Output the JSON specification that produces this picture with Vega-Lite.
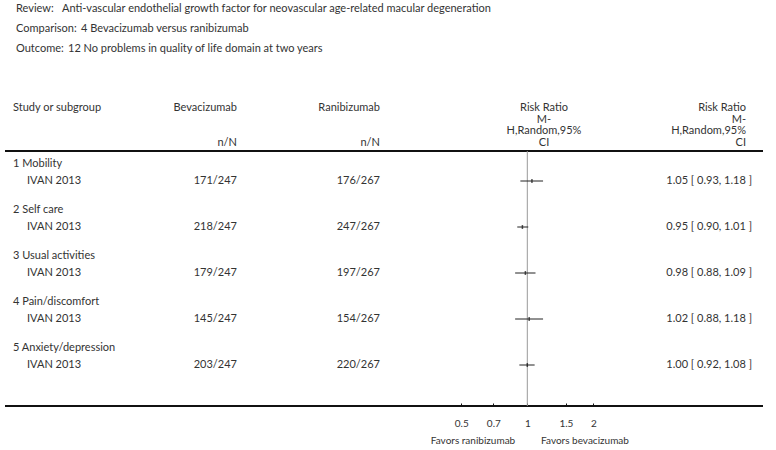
{
  "$schema": "https://vega.github.io/schema/vega-lite/v6.json",
  "width": 776,
  "height": 450,
  "padding": 0,
  "autosize": {"type": "none"},
  "background": "white",
  "config": {"view": {"stroke": null}, "text": {"font": "Lato", "fontSize": 11, "color": "#333"}},
  "datasets": {
    "leftText": [
      {"row": 0, "col": 2, "text": "Review:"},
      {"row": 0, "col": 4, "text": "Anti-vascular endothelial growth factor for neovascular age-related macular degeneration"},
      {"row": 1, "col": 2, "text": "Comparison:"},
      {"row": 1, "col": 6, "text": "4 Bevacizumab versus ranibizumab"},
      {"row": 2, "col": 2, "text": "Outcome:"},
      {"row": 2, "col": 5, "text": "12 No problems in quality of life domain at two years"},
      {"row": 3, "col": 1, "text": "Study or subgroup"},
      {"row": 8, "col": 1, "text": "1 Mobility"},
      {"row": 9, "col": 3, "text": "IVAN 2013"},
      {"row": 10, "col": 1, "text": "2 Self care"},
      {"row": 11, "col": 3, "text": "IVAN 2013"},
      {"row": 12, "col": 1, "text": "3 Usual activities"},
      {"row": 13, "col": 3, "text": "IVAN 2013"},
      {"row": 14, "col": 1, "text": "4 Pain/discomfort"},
      {"row": 15, "col": 3, "text": "IVAN 2013"},
      {"row": 16, "col": 1, "text": "5 Anxiety/depression"},
      {"row": 17, "col": 3, "text": "IVAN 2013"}
    ],
    "rightText": [
      {"row": 3, "col": 7, "text": "Bevacizumab"},
      {"row": 3, "col": 8, "text": "Ranibizumab"},
      {"row": 6, "col": 7, "text": "n/N"},
      {"row": 6, "col": 8, "text": "n/N"},
      {"row": 3, "col": 12, "text": "Risk Ratio"},
      {"row": 4, "col": 12, "text": "M-"},
      {"row": 5, "col": 12, "text": "H,Random,95%"},
      {"row": 6, "col": 12, "text": "CI"},
      {"row": 9, "col": 7, "text": "171/247"},
      {"row": 9, "col": 8, "text": "176/267"},
      {"row": 9, "col": 13, "text": "1.05 [ 0.93, 1.18 ]"},
      {"row": 11, "col": 7, "text": "218/247"},
      {"row": 11, "col": 8, "text": "247/267"},
      {"row": 11, "col": 13, "text": "0.95 [ 0.90, 1.01 ]"},
      {"row": 13, "col": 7, "text": "179/247"},
      {"row": 13, "col": 8, "text": "197/267"},
      {"row": 13, "col": 13, "text": "0.98 [ 0.88, 1.09 ]"},
      {"row": 15, "col": 7, "text": "145/247"},
      {"row": 15, "col": 8, "text": "154/267"},
      {"row": 15, "col": 13, "text": "1.02 [ 0.88, 1.18 ]"},
      {"row": 17, "col": 7, "text": "203/247"},
      {"row": 17, "col": 8, "text": "220/267"},
      {"row": 17, "col": 13, "text": "1.00 [ 0.92, 1.08 ]"}
    ],
    "centerText": [
      {"row": 3, "col": 10, "text": "Risk Ratio"},
      {"row": 4, "col": 10, "text": "M-"},
      {"row": 5, "col": 10, "text": "H,Random,95%"},
      {"row": 6, "col": 10, "text": "CI"},
      {"row": 20, "col": 9, "text": "Favors ranibizumab"},
      {"row": 20, "col": 11, "text": "Favors bevacizumab"}
    ],
    "borders": [
      {"row": 7, "from": 0, "to": 14},
      {"row": 18, "from": 0, "to": 14}
    ],
    "studies": [
      {"row": 9, "rr": 1.05, "lo": 0.93, "hi": 1.18},
      {"row": 11, "rr": 0.95, "lo": 0.90, "hi": 1.01},
      {"row": 13, "rr": 0.98, "lo": 0.88, "hi": 1.09},
      {"row": 15, "rr": 1.02, "lo": 0.88, "hi": 1.18},
      {"row": 17, "rr": 1.00, "lo": 0.92, "hi": 1.08}
    ],
    "nullLine": [
      {"rr": 1, "top": 7, "bottom": 18}
    ]
  },
  "resolve": {"scale": {"x": "independent"}, "axis": {"x": "independent"}},
  "layer": [
    {
      "layer": [
        {
          "data": {"name": "borders"},
          "mark": {"type": "rule", "color": "#111", "strokeWidth": 2},
          "encoding": {
            "x": {"field": "from", "type": "quantitative", "axis": null,
                  "scale": {"type": "linear", "zero": false, "nice": false,
                            "domain": [0,1,2,3,4,5,6,7,8,9,10,11,12,13,14],
                            "range": [5,13,16,27,62,68,81,237,380,473,544,585,746,752,763]}},
            "x2": {"field": "to"},
            "y": {"field": "row", "type": "quantitative", "axis": null,
                  "scale": {"type": "linear", "zero": false, "nice": false,
                            "domain": [0,1,2,3,4,5,6,7,8,9,10,11,12,13,14,15,16,17,18,19,20],
                            "range": [9,29,49,108,119.5,131,142.5,151,164,181,210,227,256,273,302,319,348,365,406,423,441]}}
          }
        },
        {
          "data": {"name": "leftText"},
          "mark": {"type": "text", "align": "left", "baseline": "middle"},
          "encoding": {
            "x": {"field": "col", "type": "quantitative", "axis": null},
            "y": {"field": "row", "type": "quantitative", "axis": null},
            "text": {"field": "text"}
          }
        },
        {
          "data": {"name": "rightText"},
          "mark": {"type": "text", "align": "right", "baseline": "middle"},
          "encoding": {
            "x": {"field": "col", "type": "quantitative", "axis": null},
            "y": {"field": "row", "type": "quantitative", "axis": null},
            "text": {"field": "text"}
          }
        },
        {
          "data": {"name": "centerText"},
          "mark": {"type": "text", "align": "center", "baseline": "middle"},
          "encoding": {
            "x": {"field": "col", "type": "quantitative", "axis": null},
            "y": {"field": "row", "type": "quantitative", "axis": null},
            "text": {"field": "text"},
            "size": {"condition": {"test": "datum.row == 20", "value": 10}, "value": 11}
          }
        }
      ]
    },
    {
      "layer": [
        {
          "data": {"name": "nullLine"},
          "mark": {"type": "rule", "color": "#999", "strokeWidth": 1},
          "encoding": {
            "x": {"field": "rr", "type": "quantitative",
                  "scale": {"type": "log", "domain": [0.5, 2], "range": [461.3, 593.3], "nice": false, "zero": false},
                  "axis": {"orient": "bottom", "offset": -44, "values": [0.5, 0.7, 1, 1.5, 2], "format": "~g",
                           "domain": false, "grid": false, "title": null, "tickSize": -3, "tickColor": "#111",
                           "tickWidth": 1, "labelPadding": 15, "labelFont": "Lato", "labelFontSize": 10,
                           "labelColor": "#333", "labelFlush": false, "labelOverlap": false}},
            "y": {"field": "top", "type": "quantitative", "axis": null},
            "y2": {"field": "bottom"}
          }
        },
        {
          "data": {"name": "studies"},
          "mark": {"type": "rule", "color": "#222", "strokeWidth": 1},
          "encoding": {
            "x": {"field": "lo", "type": "quantitative"},
            "x2": {"field": "hi"},
            "y": {"field": "row", "type": "quantitative", "axis": null}
          }
        },
        {
          "data": {"name": "studies"},
          "mark": {"type": "tick", "orient": "vertical", "color": "#111", "size": 4, "thickness": 1.5},
          "encoding": {
            "x": {"field": "rr", "type": "quantitative"},
            "y": {"field": "row", "type": "quantitative", "axis": null}
          }
        }
      ]
    }
  ]
}
